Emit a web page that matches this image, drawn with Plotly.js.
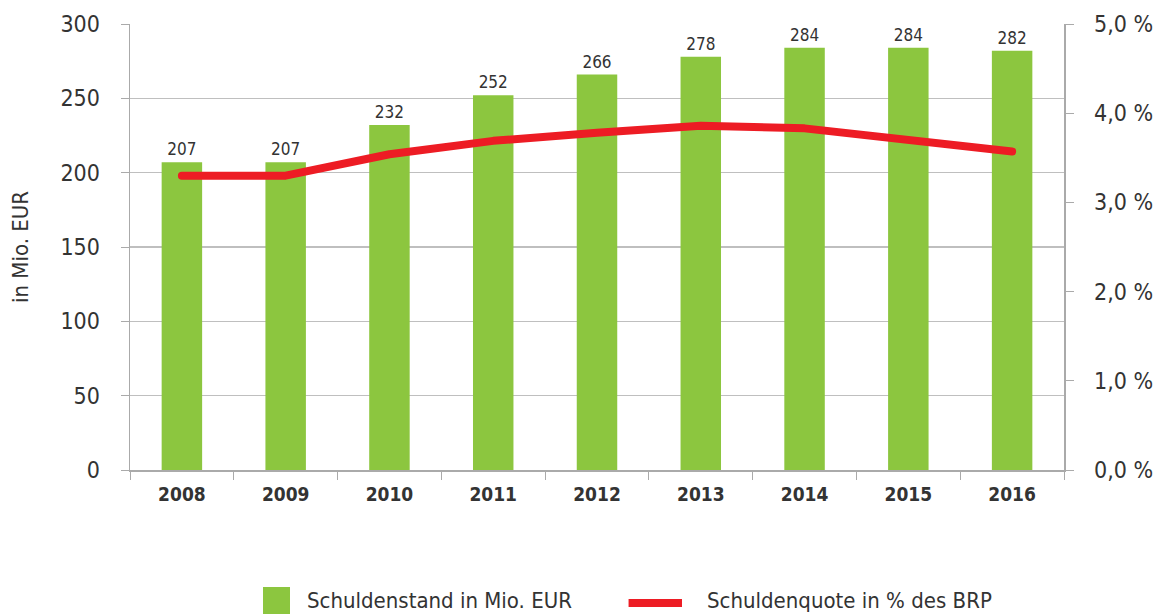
<!DOCTYPE html>
<html><head><meta charset="utf-8">
<script src="https://cdn.plot.ly/plotly-3.0.1.min.js"></script>
<style>html,body{margin:0;padding:0;background:#fff}#chart{width:1158px;height:614px}</style>
</head><body><div id="chart"></div>
<script>
const years = ['2008','2009','2010','2011','2012','2013','2014','2015','2016'];
const debt = [207, 207, 232, 252, 266, 278, 284, 284, 282];
const ratio = [3.30, 3.30, 3.54, 3.69, 3.78, 3.86, 3.83, 3.70, 3.57];
const leftTicks = [0, 50, 100, 150, 200, 250, 300];
const rightTicks = [0, 1, 2, 3, 4, 5];
const rightTickText = ['0,0 %', '1,0 %', '2,0 %', '3,0 %', '4,0 %', '5,0 %'];
const seriesNames = ['Schuldenstand in Mio. EUR', 'Schuldenquote in % des BRP'];
const barColor = '#8CC63F';
const lineColor = '#ED1C24';

const FONT = 'DejaVu Sans Condensed, Liberation Sans Narrow, sans-serif';
const traces = [
  {type:'bar', x:years, y:debt, name:seriesNames[0],
   marker:{color:barColor}, text:debt.map(String), textposition:'outside',
   textfont:{family:FONT, size:17, color:'#333'}, cliponaxis:false, hoverinfo:'x+y'},
  {type:'scatter', mode:'lines', x:years, y:ratio, yaxis:'y2', name:seriesNames[1],
   line:{color:lineColor, width:8}}
];
// custom legend (symbols + labels) placed below the plot
const shapes = [
  {type:'rect', xref:'paper', yref:'paper', x0:0.1424, x1:0.1713, y0:-0.2623, y1:-0.325,
   fillcolor:barColor, line:{width:0}, layer:'above'},
  {type:'line', xref:'paper', yref:'paper', x0:0.5338, x1:0.5910, y0:-0.2982, y1:-0.2982,
   line:{color:lineColor, width:8}, layer:'above'}
];
const annotations = [
  {xref:'paper', yref:'paper', x:0.1874, y:-0.2937, xanchor:'left', yanchor:'middle',
   text:seriesNames[0], showarrow:false, font:{family:FONT, size:22, color:'#333'}},
  {xref:'paper', yref:'paper', x:0.6156, y:-0.2937, xanchor:'left', yanchor:'middle',
   text:seriesNames[1], showarrow:false, font:{family:FONT, size:22, color:'#333'}}
];
const layout = {
  width:1158, height:614,
  margin:{l:130, r:94, t:24, b:144},
  paper_bgcolor:'#fff', plot_bgcolor:'#fff',
  font:{family:FONT, color:'#333', size:22},
  bargap:0.61,
  showlegend:false,
  shapes:shapes, annotations:annotations,
  xaxis:{type:'category', tickson:'boundaries', ticks:'outside', ticklen:8, tickcolor:'#aaa',
    showline:true, linecolor:'#aaa', linewidth:1.5, showgrid:false, ticklabelstandoff:7,
    tickfont:{family:FONT, size:19, color:'#333', weight:'bold'}},
  yaxis:{range:[0,300], tickvals:leftTicks, ticks:'outside', ticklen:8, tickcolor:'#aaa',
    showline:true, linecolor:'#aaa', linewidth:1.5, gridcolor:'#bfbfbf', gridwidth:1.5,
    zeroline:false, tickfont:{size:23}, ticklabelstandoff:16,
    title:{text:'in Mio. EUR', font:{size:22}, standoff:25}},
  yaxis2:{range:[0,5], overlaying:'y', side:'right', tickvals:rightTicks, ticktext:rightTickText,
    ticks:'outside', ticklen:8, tickcolor:'#aaa', showline:true, linecolor:'#aaa', linewidth:1.5,
    showgrid:false, zeroline:false, tickfont:{size:23}, ticklabelstandoff:16}
};
Plotly.newPlot('chart', traces, layout, {displayModeBar:false, staticPlot:true}).then(function(gd){
  gd.querySelectorAll('.scatterlayer path.js-line').forEach(function(p){
    p.style.strokeLinecap = 'round';
    p.style.strokeLinejoin = 'round';
  });
});
</script></body></html>
